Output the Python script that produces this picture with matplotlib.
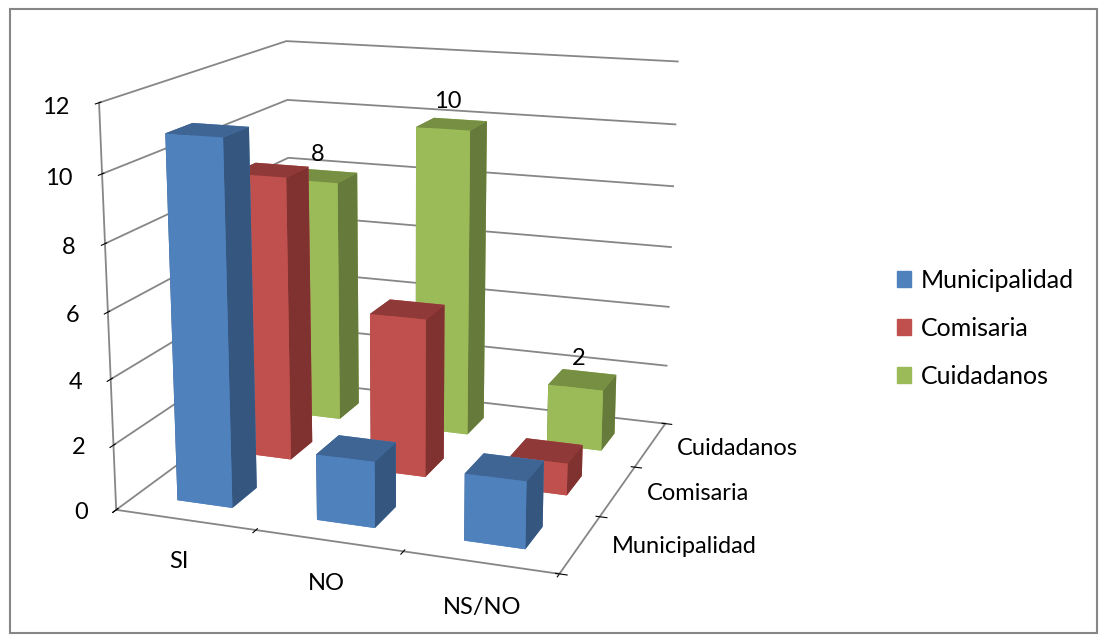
import numpy as np
import matplotlib
matplotlib.use("Agg")
import matplotlib.pyplot as plt
from matplotlib.patches import Patch, Rectangle

plt.rcParams["font.family"] = ["Lato", "DejaVu Sans"]

categories = ["SI", "NO", "NS/NO"]
series = ["Municipalidad", "Comisaria", "Cuidadanos"]
municipalidad = [11, 2, 2]
comisaria = [9, 5, 1]
cuidadanos = [8, 10, 2]
labelled = [8, 10, 2]
z_ticks = [0, 2, 4, 6, 8, 10, 12]

front = ["#4F81BD", "#C0504D", "#9BBB59"]
side = ["#35577F", "#7F3230", "#667A3B"]
top = ["#3F6595", "#8F3A38", "#768F42"]

fig = plt.figure(figsize=(11.07, 6.41), dpi=100)
fig.patches.append(Rectangle((10 / 1107, 8 / 641), 1087 / 1107, 624 / 641, transform=fig.transFigure,
                             fill=False, edgecolor="#868686", linewidth=1.5))
ax = fig.add_axes([-0.003, -0.002, 0.725, 1.108], projection="3d", proj_type="persp", focal_length=0.5)
ax.view_init(elev=15, azim=-70)
ax.set_box_aspect((2.9, 2.8, 2.6))

values = [municipalidad, comisaria, cuidadanos]
depth_pos = [0.5, 1.5, 2.45]
width = 0.40
xs, ys, hs, colors = [], [], [], []
for j in range(3):
    for i in range(3):
        xs.append(i + 0.5 - width / 2)
        ys.append(depth_pos[j] - width / 2)
        hs.append(values[j][i])
        # bar3d face order: -z, +z, -y, +y, -x, +x
        colors += [front[j], top[j], front[j], front[j], side[j], side[j]]
ax.bar3d(xs, ys, np.zeros(9), width, width, hs, color=colors, shade=False, edgecolor="none")

ax.set_xlim(0, 3)
ax.set_ylim(0, 3)
ax.set_zlim(0, 12)
ax.set_xticks([0, 1, 2, 3])
ax.set_yticks([0, 1, 2, 3])
ax.set_zticks(z_ticks)
ax.set_xticklabels([])
ax.set_yticklabels([])
ax.set_zticklabels([])
ax.zaxis.set_ticks_position("lower")

for axis in (ax.xaxis, ax.yaxis, ax.zaxis):
    axis.set_pane_color((1, 1, 1, 0))
    axis.pane.set_edgecolor("#868686")
    axis.line.set_color("#868686")
    axis.line.set_linewidth(1.3)
    axis._axinfo["tick"]["color"] = "#868686"
ax.xaxis._axinfo["grid"]["linewidth"] = 0
ax.yaxis._axinfo["grid"]["linewidth"] = 0
ax.zaxis._axinfo["grid"]["color"] = "#868686"
ax.zaxis._axinfo["grid"]["linewidth"] = 1.3

for z in z_ticks:
    ax.text(-0.21, 0, z - 0.2, str(z), fontsize=17, ha="right", va="center")
for i, name in enumerate(categories):
    ax.text(i + 0.62, -0.35, -0.6, name, fontsize=17, ha="center", va="center")
for j, name in enumerate(series):
    ax.text(3.2, depth_pos[j], 0.05, name, fontsize=17, ha="left", va="center")
for i in range(3):
    ax.text(i + 0.47, depth_pos[2], labelled[i] + 0.7, str(labelled[i]), fontsize=17, ha="center", va="center")

handles = [Patch(color=c) for c in front]
fig.legend(handles, series, loc="center left", bbox_to_anchor=(0.79, 0.488), frameon=False, fontsize=18,
           handlelength=0.55, handleheight=0.65, labelspacing=1.0, handletextpad=0.4)

fig.savefig("out.png", dpi=100)
